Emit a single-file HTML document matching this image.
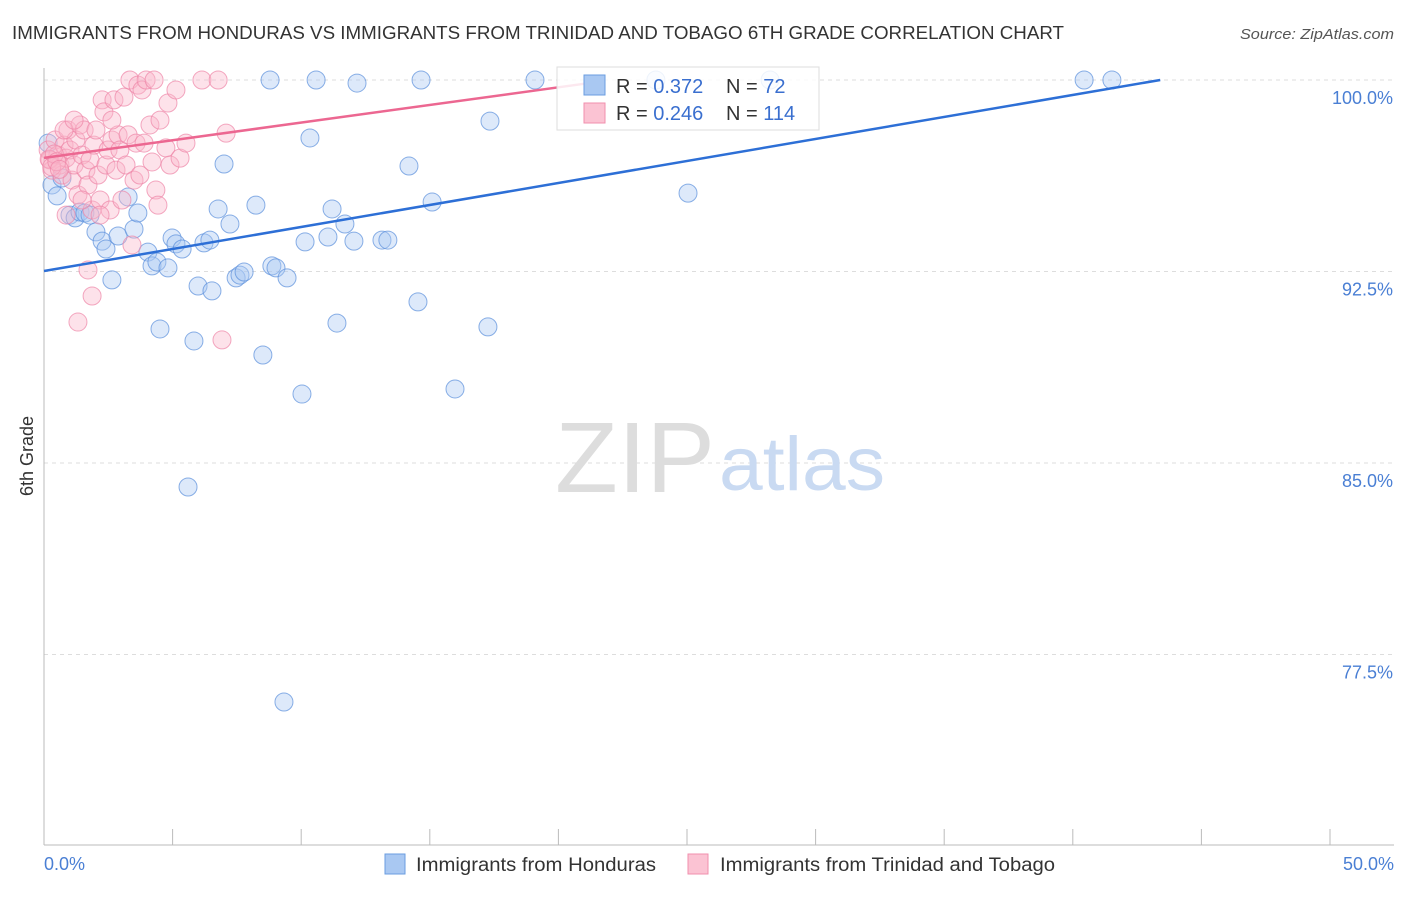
<!DOCTYPE html>
<html><head><meta charset="utf-8"><style>
body{margin:0;background:#fff;font-family:"Liberation Sans",Arial,sans-serif;}
svg text{font-family:"Liberation Sans",Arial,sans-serif;}
</style></head><body>
<svg id="chart" width="1406" height="892" xmlns="http://www.w3.org/2000/svg">
<text x="12" y="39" font-size="18" fill="#333" textLength="1052" lengthAdjust="spacingAndGlyphs">IMMIGRANTS FROM HONDURAS VS IMMIGRANTS FROM TRINIDAD AND TOBAGO 6TH GRADE CORRELATION CHART</text>
<text x="1394" y="39" font-size="15" fill="#555" text-anchor="end" font-style="italic" textLength="154" lengthAdjust="spacingAndGlyphs">Source: ZipAtlas.com</text>
<g id="grid"></g>
<g>
<text x="555" y="492" font-size="100" fill="#ddd" font-family="Liberation Serif,serif" textLength="160" lengthAdjust="spacingAndGlyphs">ZIP</text>
<text x="719" y="490" font-size="76" fill="#c9daf2" textLength="166" lengthAdjust="spacingAndGlyphs">atlas</text>
</g>
<line x1="44" y1="68" x2="44" y2="845" stroke="#bbb"/>
<line x1="44" y1="845" x2="1394" y2="845" stroke="#bbb"/>
<text transform="translate(33,456) rotate(-90)" font-size="18" fill="#333" text-anchor="middle">6th Grade</text>
<text x="44" y="870" font-size="18" fill="#4a7fd4">0.0%</text>
<text x="1394" y="870" font-size="18" fill="#4a7fd4" text-anchor="end">50.0%</text>
<g id="points"></g>
<g id="lines"></g>
<g>
<rect x="557" y="67" width="262" height="63" fill="#fff" fill-opacity="0.85" stroke="#ddd"/>
<rect x="584" y="75" width="21" height="20" fill="#a9c8f2" stroke="#6a9de0"/>
<rect x="584" y="103" width="21" height="20" fill="#fbc3d3" stroke="#f08fae"/>
<text x="616" y="93" font-size="20" fill="#333">R = <tspan fill="#3a6fcf">0.372</tspan></text>
<text x="726" y="93" font-size="20" fill="#333">N = <tspan fill="#3a6fcf"> 72</tspan></text>
<text x="616" y="120" font-size="20" fill="#333">R = <tspan fill="#3a6fcf">0.246</tspan></text>
<text x="726" y="120" font-size="20" fill="#333">N = <tspan fill="#3a6fcf">114</tspan></text>
</g>
<g>
<rect x="385" y="854" width="20" height="20" fill="#a9c8f2" stroke="#6a9de0"/>
<text x="416" y="871" font-size="19" fill="#333" textLength="240" lengthAdjust="spacingAndGlyphs">Immigrants from Honduras</text>
<rect x="688" y="854" width="20" height="20" fill="#fbc3d3" stroke="#f08fae"/>
<text x="720" y="871" font-size="19" fill="#333" textLength="335" lengthAdjust="spacingAndGlyphs">Immigrants from Trinidad and Tobago</text>
</g>
</svg>
<script>
const yTicks=[100,92.5,85,77.5];
const yTickLabels=["100.0%","92.5%","85.0%","77.5%"];
const xTicks=[0,5,10,15,20,25,30,35,40,45,50];
const blueX=[0.16,0.31,0.51,0.70,1.01,1.21,1.40,1.59,1.79,2.02,2.26,2.41,2.64,2.88,3.27,3.50,3.65,4.04,4.20,4.39,4.51,4.82,4.98,5.13,5.37,5.60,5.83,5.99,6.22,6.45,6.53,6.77,7.00,7.23,7.47,7.62,7.78,8.24,8.51,8.79,8.86,9.02,9.33,9.45,10.03,10.15,10.34,10.58,11.04,11.20,11.39,11.70,12.05,12.17,13.14,13.37,14.19,14.54,14.66,15.09,15.98,17.26,17.34,19.09,23.79,25.04,28.23,40.44,41.52];
const blueY=[97.53,95.89,95.46,96.16,94.71,94.60,94.83,94.79,94.71,94.05,93.69,93.38,92.17,93.89,95.42,94.16,94.79,93.26,92.72,92.87,90.25,92.64,93.81,93.58,93.38,84.06,89.78,91.93,93.62,93.73,91.74,94.95,96.71,94.36,92.25,92.36,92.48,95.10,89.23,100,92.72,92.64,75.64,92.25,87.70,93.66,97.73,100,93.85,94.95,90.48,94.36,93.69,99.88,93.73,93.73,96.63,91.31,100,95.22,87.90,90.33,98.39,100,100,95.57,100,100,100];
const pinkX=[0.16,0.23,0.31,0.43,0.54,0.62,0.70,0.78,0.86,0.93,1.01,1.09,1.17,1.24,1.32,1.40,1.48,1.56,1.63,1.71,1.79,1.87,1.94,2.02,2.10,2.18,2.26,2.33,2.41,2.49,2.57,2.64,2.72,2.80,2.88,2.95,3.03,3.11,3.19,3.27,3.34,3.42,3.50,3.58,3.65,3.73,3.81,3.89,3.97,4.12,4.20,4.28,4.35,4.43,4.51,4.74,4.82,4.90,5.13,5.29,5.52,6.14,6.77,6.92,7.08,1.71,1.87,1.32,0.78,1.17,2.64,1.48,0.86,2.18,0.2,0.3,0.4,0.5,0.6];
const pinkY=[97.26,96.87,96.47,97.65,97.06,96.67,96.28,97.45,96.94,98.04,97.26,96.08,96.67,97.65,95.50,98.24,97.06,98.04,96.47,95.89,96.87,94.91,97.45,98.04,96.28,95.30,99.22,98.75,96.67,97.26,94.91,97.65,99.22,96.47,97.85,97.26,95.30,99.33,96.67,97.85,100,93.54,96.08,97.53,99.80,96.28,99.61,97.53,100,98.24,96.79,100,95.69,95.10,98.43,97.34,99.10,96.67,99.61,96.94,97.53,100,100,89.82,97.92,92.56,91.54,90.52,98.04,98.43,98.43,95.30,94.71,94.71,96.9,96.6,97.1,96.8,96.5];
const blueLine=[0,43.4];const blueLineY=[92.52,100];
const pinkLine=[0,21.2];const pinkLineY=[96.95,99.88];
const NS="http://www.w3.org/2000/svg";
const sx=v=>44+v*25.72, sy=v=>80+(100-v)*25.533;
const grid=document.getElementById('grid');
yTicks.forEach((t,i)=>{
 const l=document.createElementNS(NS,'line');
 
 
 l.setAttribute('x1',44);l.setAttribute('x2',1394);l.setAttribute('y1',sy(t));l.setAttribute('y2',sy(t));
 l.setAttribute('stroke','#ddd');l.setAttribute('stroke-dasharray','4,4');grid.appendChild(l);
 const tx=document.createElementNS(NS,'text');
 
 
 tx.setAttribute('x',1393);tx.setAttribute('y',sy(t)+24);tx.setAttribute('font-size','18');tx.setAttribute('fill','#4a7fd4');tx.setAttribute('text-anchor','end');
 tx.textContent=yTickLabels[i];grid.appendChild(tx);
});
xTicks.forEach(t=>{
 const l=document.createElementNS(NS,'line');
 
 
 l.setAttribute('x1',sx(t));l.setAttribute('x2',sx(t));l.setAttribute('y1',829);l.setAttribute('y2',845);
 l.setAttribute('stroke','#bbb');grid.appendChild(l);
});
const pts=document.getElementById('points');
function dots(X,Y,fill,stroke,name){X.forEach((x,i)=>{
 const c=document.createElementNS(NS,'circle');
 
 
 c.setAttribute('cx',sx(x));c.setAttribute('cy',sy(Y[i]));c.setAttribute('r',9);
 c.setAttribute('fill',fill);c.setAttribute('fill-opacity','0.4');c.setAttribute('stroke',stroke);c.setAttribute('stroke-opacity','0.7');
 pts.appendChild(c);});}
dots(blueX,blueY,'#a9c8f2','#5a8fdc','honduras-point');
dots(pinkX,pinkY,'#f9b6ca','#ee85a6','trinidad-point');
const lines=document.getElementById('lines');
function tl(X,Y,col,name){
 const l=document.createElementNS(NS,'line');
 
 
 l.setAttribute('x1',sx(X[0]));l.setAttribute('y1',sy(Y[0]));l.setAttribute('x2',sx(X[1]));l.setAttribute('y2',sy(Y[1]));
 l.setAttribute('stroke',col);l.setAttribute('stroke-width','2.5');lines.appendChild(l);}
tl(blueLine,blueLineY,'#2d6fd6','honduras-trend-line');
tl(pinkLine,pinkLineY,'#ec6791','trinidad-trend-line');
</script>
</body></html>
